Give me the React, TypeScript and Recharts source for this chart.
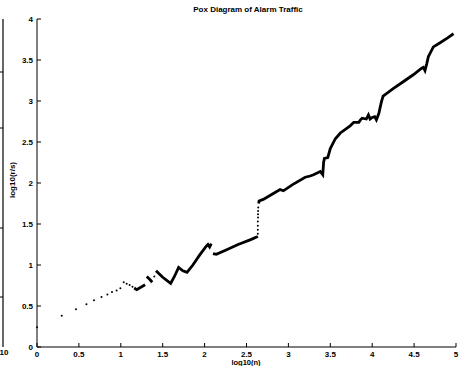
import React from "react";
import { ComposedChart, Line, Scatter, XAxis, YAxis } from "recharts";

// early sparse points
const startDots: [number, number][] = [
  [0, 0.24], [0.295, 0.38], [0.465, 0.46], [0.59, 0.52], [0.68, 0.57],
  [0.77, 0.61], [0.84, 0.64], [0.895, 0.67], [0.95, 0.69], [0.995, 0.715],
  [1.035, 0.79], [1.07, 0.77], [1.105, 0.755], [1.14, 0.735], [1.40, 0.86],
];

// vertical jump near log10(n) = 2.64
const jumpDots: [number, number][] = [
  [2.635, 1.38], [2.635, 1.43], [2.635, 1.48], [2.635, 1.53],
  [2.637, 1.58], [2.637, 1.62], [2.638, 1.66], [2.64, 1.70],
];

const segA: [number, number][] = [[1.16, 0.72], [1.19, 0.70], [1.29, 0.76]];
const segB: [number, number][] = [[1.31, 0.86], [1.35, 0.82], [1.375, 0.79]];
const segC: [number, number][] = [
  [1.42, 0.93], [1.50, 0.85], [1.595, 0.775], [1.64, 0.86], [1.69, 0.97],
  [1.74, 0.93], [1.79, 0.91], [1.86, 1.0], [1.94, 1.12], [2.02, 1.23],
  [2.04, 1.25], [2.06, 1.22], [2.08, 1.26],
];
const segD: [number, number][] = [
  [2.10, 1.14], [2.14, 1.13], [2.25, 1.18], [2.40, 1.25], [2.55, 1.31],
  [2.62, 1.34], [2.635, 1.35],
];
const segE: [number, number][] = [
  [2.645, 1.75], [2.65, 1.78], [2.70, 1.80], [2.80, 1.86], [2.90, 1.92],
  [2.94, 1.905], [3.05, 1.98], [3.20, 2.07], [3.26, 2.085], [3.30, 2.10],
  [3.38, 2.14], [3.41, 2.10], [3.42, 2.25], [3.43, 2.30], [3.47, 2.31],
  [3.50, 2.42], [3.56, 2.54], [3.62, 2.61], [3.70, 2.67], [3.74, 2.70],
  [3.78, 2.74], [3.84, 2.74], [3.86, 2.77], [3.88, 2.79], [3.93, 2.78],
  [3.955, 2.83], [3.975, 2.78], [4.00, 2.80], [4.03, 2.81], [4.05, 2.77],
  [4.08, 2.85], [4.09, 2.90], [4.11, 2.99], [4.13, 3.06], [4.17, 3.09],
  [4.25, 3.15], [4.37, 3.235], [4.49, 3.32], [4.59, 3.40], [4.61, 3.41],
  [4.63, 3.37], [4.65, 3.45], [4.67, 3.54], [4.73, 3.66], [4.81, 3.71],
  [4.90, 3.77], [4.97, 3.82],
];

const xTicks = [0, 0.5, 1, 1.5, 2, 2.5, 3, 3.5, 4, 4.5, 5];
const yTicks = [0, 0.5, 1, 1.5, 2, 2.5, 3, 3.5, 4];

const toPts = (arr: [number, number][]) => arr.map(([x, y]) => ({ x, y }));
const FONT = "'Liberation Sans', Arial, sans-serif";

const BottomTick = ({ x, y, payload }: any) => (
  <g>
    <line x1={x} x2={x} y1={y} y2={y - 4} stroke="#000" />
    <text x={x} y={y + 10} textAnchor="middle" fontSize={8} fontWeight="bold" fontFamily={FONT} fill="#000">
      {payload.value}
    </text>
  </g>
);
const TopTick = ({ x, y }: any) => <line x1={x} x2={x} y1={y} y2={y + 4} stroke="#000" />;
const LeftTick = ({ x, y, payload }: any) => (
  <g>
    <line x1={x} x2={x + 4} y1={y} y2={y} stroke="#000" />
    <text x={x - 4} y={y + 3} textAnchor="end" fontSize={8} fontWeight="bold" fontFamily={FONT} fill="#000">
      {payload.value}
    </text>
  </g>
);
const RightTick = ({ x, y }: any) => <line x1={x} x2={x - 4} y1={y} y2={y} stroke="#000" />;

const Dot = (props: any) => <circle cx={props.cx} cy={props.cy} r={1} fill="#000" />;

const segments = [segA, segB, segC, segD, segE];

export default function App() {
  return (
    <div style={{ position: "absolute", left: 0, top: 0, width: 463, height: 366, background: "#fff", overflow: "hidden" }}>
      <ComposedChart width={463} height={366} margin={{ top: 19, right: 7, bottom: 0, left: 0 }}>
        <XAxis dataKey="x" type="number" domain={[0, 5]} ticks={xTicks} height={19}
          axisLine={{ stroke: "#000" }} tickLine={false} tickSize={0} tickMargin={0} tick={<BottomTick />} interval={0} />
        <XAxis xAxisId="top" orientation="top" dataKey="x" type="number" domain={[0, 5]} ticks={xTicks} height={0}
          axisLine={{ stroke: "#000" }} tickLine={false} tickSize={0} tickMargin={0} tick={<TopTick />} interval={0} />
        <YAxis dataKey="y" type="number" domain={[0, 4]} ticks={yTicks} width={37}
          axisLine={{ stroke: "#000" }} tickLine={false} tickSize={0} tickMargin={0} tick={<LeftTick />} interval={0} />
        <YAxis yAxisId="right" orientation="right" type="number" domain={[0, 4]} ticks={yTicks} width={0}
          axisLine={{ stroke: "#000" }} tickLine={false} tickSize={0} tickMargin={0} tick={<RightTick />} interval={0} />
        {segments.map((s, i) => (
          <Line key={i} data={toPts(s)} dataKey="y" type="linear" stroke="#000" strokeWidth={2.8}
            dot={false} activeDot={false} isAnimationActive={false} />
        ))}
        <Scatter data={toPts(startDots)} dataKey="y" shape={<Dot />} isAnimationActive={false} />
        <Scatter data={toPts(jumpDots)} dataKey="y" shape={<Dot />} isAnimationActive={false} />
      </ComposedChart>
      <svg width={463} height={366} style={{ position: "absolute", left: 0, top: 0, pointerEvents: "none" }}>
        <text x={248} y={12} textAnchor="middle" fontSize={8} fontWeight="bold" fontFamily={FONT} fill="#000">
          Pox Diagram of Alarm Traffic
        </text>
        <text x={246} y={365} textAnchor="middle" fontSize={7.5} fontWeight="bold" fontFamily={FONT} fill="#000">
          log10(n)
        </text>
        <text x={15} y={180} textAnchor="middle" fontSize={8} fontWeight="bold" fontFamily={FONT} fill="#000"
          transform="rotate(-90 15 180)">
          log10(r/s)
        </text>
        {/* edge of the neighbouring subplot */}
        <line x1={3} x2={3} y1={19} y2={347} stroke="#000" strokeWidth={1.2} />
        {[72, 128, 228, 297].map((ty) => (
          <line key={ty} x1={3} x2={0} y1={ty} y2={ty} stroke="#000" />
        ))}
        <text x={4} y={355} textAnchor="middle" fontSize={8} fontWeight="bold" fontFamily={FONT} fill="#000">10</text>
      </svg>
    </div>
  );
}
